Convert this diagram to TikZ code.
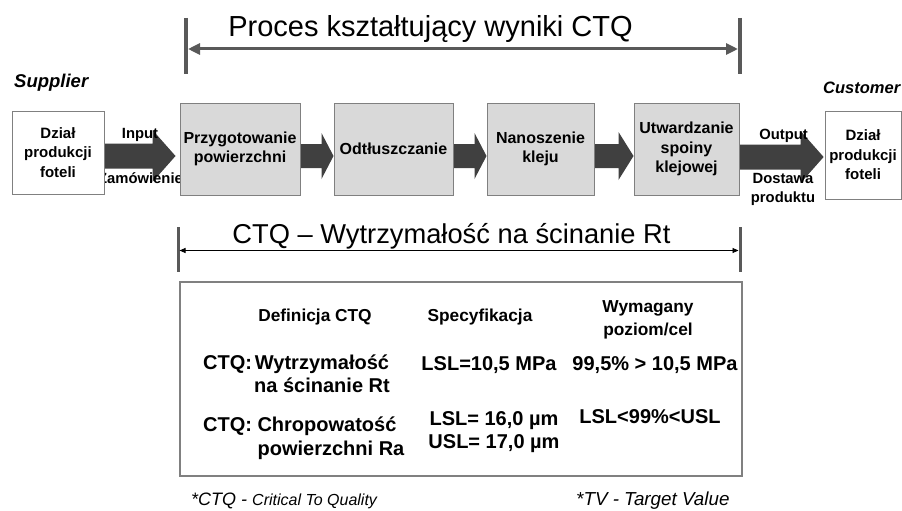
\documentclass[tikz,border=0pt]{standalone}
\usepackage{fontspec}
\setmainfont{Liberation Sans}
\usetikzlibrary{arrows.meta,calc}
\definecolor{boxgray}{RGB}{217,217,217}
\definecolor{edgegray}{RGB}{128,128,128}
\definecolor{arrowdark}{RGB}{64,64,64}
\definecolor{bracketgray}{RGB}{89,89,89}
\newcommand{\fs}[2]{\fontsize{#1}{#2}\selectfont}
% block arrow: from, to, dy (down), shaft half, head half, head length, tip gap
\newcommand{\barrow}[7]{%
  \fill[blockarrow] let \p1=(#1.east), \p2=(#2.west) in
  (\x1,\y1-#3+#4) -- (\x2-#7-#6,\y1-#3+#4) -- (\x2-#7-#6,\y1-#3+#5) --
  (\x2-#7,\y1-#3) -- (\x2-#7-#6,\y1-#3-#5) -- (\x2-#7-#6,\y1-#3-#4) --
  (\x1,\y1-#3-#4) -- cycle;}
\tikzset{
  procbox/.style={draw=edgegray, line width=1pt, fill=boxgray, minimum height=92pt,
    inner sep=0pt, align=center, font=\bfseries\fs{16}{19.5}},
  endbox/.style={draw=edgegray, line width=0.8pt, fill=white, inner sep=0pt,
    align=center, font=\bfseries\fs{15}{19.5}},
  lbl/.style={font=\bfseries\fs{14.8}{18}, inner sep=0pt, anchor=base},
  hdr/.style={font=\bfseries\fs{17.3}{22}, inner sep=0pt, anchor=base},
  rowtxt/.style={font=\bfseries\fs{20}{23}, inner sep=0pt, anchor=base},
  blockarrow/.style={fill=arrowdark},
  bar/.style={draw=bracketgray, line width=4pt},
  thinbar/.style={draw=bracketgray, line width=3pt},
}
\begin{document}
\begin{tikzpicture}[x=1pt,y=-1pt]
\useasboundingbox (0,0) rectangle (902,511);
\fill[white] (0,0) rectangle (902,511);

% top title and bracket
\node[font=\fs{29}{32}, inner sep=0pt, anchor=base] (title1) at (430.5,37) {Proces kształtujący wyniki CTQ};
\draw[bar] (186,18) -- (186,74);
\draw[bar] (740,18) -- (740,74);
\coordinate (tl) at (188,49);
\coordinate (tr) at (738,49);
\draw[bracketgray, line width=3pt, {Triangle[length=12pt,width=11pt]}-{Triangle[length=12pt,width=11pt]}] (tl) -- (tr);

% supplier / customer
\node[font=\bfseries\itshape\fs{18.5}{20}, inner sep=0pt, anchor=base west] (supl) at (14,87) {Supplier};
\node[font=\bfseries\itshape\fs{16.5}{20}, inner sep=0pt, anchor=base west] (custl) at (823,93) {Customer};

% boxes (positions only, drawn after arrows)
\path (58,152.5) node[endbox, minimum width=92pt, minimum height=83pt] (sup) {};
\path (240,149) node[procbox, minimum width=120pt] (b1) {};
\path (393.5,149) node[procbox, minimum width=119pt] (b2) {};
\path (540.5,149) node[procbox, minimum width=107pt] (b3) {};
\path (686.5,149) node[procbox, minimum width=105pt] (b4) {};
\path (863,155) node[endbox, minimum width=76pt, minimum height=88pt] (cust) {};

% block arrows
\barrow{sup}{b1}{3.5pt}{12.5pt}{26pt}{23pt}{4pt}
\barrow{b1}{b2}{7pt}{12pt}{23pt}{12pt}{0pt}
\barrow{b2}{b3}{7pt}{12pt}{23pt}{12pt}{0pt}
\barrow{b3}{b4}{7pt}{12pt}{24pt}{15pt}{0pt}
\barrow{b4}{cust}{8pt}{12.5pt}{26pt}{23pt}{1pt}

% arrow labels
\node[lbl] (in) at (140,138) {Input};
\node[lbl] (zam) at (140.5,183) {Zamówienie};
\node[lbl] (out) at (783.5,139) {Output};
\node[lbl] (dost) at (783,183) {Dostawa};
\node[lbl] (prod) at (783,202) {produktu};

% boxes drawn on top
\node[endbox, minimum width=92pt, minimum height=83pt] at (sup) {Dział\\produkcji\\foteli};
\node[procbox, minimum width=120pt] at (b1) {Przygotowanie\\powierzchni};
\node[procbox, minimum width=119pt] at (b2) {Odtłuszczanie};
\node[procbox, minimum width=107pt] at (b3) {Nanoszenie\\kleju};
\node[procbox, minimum width=105pt] at (b4) {Utwardzanie\\spoiny\\klejowej};
\node[endbox, minimum width=76pt, minimum height=88pt] at (cust) {Dział\\produkcji\\foteli};

% second title and bracket
\node[font=\fs{27.3}{30}, inner sep=0pt, anchor=base] (title2) at (451.5,243) {CTQ – Wytrzymałość na ścinanie Rt};
\draw[thinbar] (178,227) -- (178,272);
\draw[thinbar] (740,227) -- (740,272);
\coordinate (bl) at (179.5,250.5);
\coordinate (br) at (738.5,250.5);
\draw[black, line width=0.8pt, {Triangle[length=6pt,width=5pt]}-{Triangle[length=6pt,width=5pt]}] (bl) -- (br);

% table
\node[draw=edgegray, line width=1.2pt, minimum width=562pt, minimum height=194pt, inner sep=0pt] (tbl) at (461,379) {};
\node[hdr] (h1) at (315,321) {Definicja CTQ};
\node[hdr] (h2) at (480,321) {Specyfikacja};
\node[hdr] (h3a) at (648,312) {Wymagany};
\node[hdr] (h3b) at (648,335) {poziom/cel};

\node[rowtxt, anchor=base west] (c1) at (203,369) {CTQ:};
\node[rowtxt] (r1a) at (322,369) {Wytrzymałość};
\node[rowtxt] (r1b) at (322,392) {na ścinanie Rt};
\node[rowtxt] (s1) at (489,370) {LSL=10,5 MPa};
\node[rowtxt] (t1) at (655,370) {99,5\% > 10,5 MPa};

\node[rowtxt, anchor=base west] (c2) at (203,431) {CTQ:};
\node[rowtxt] (r2a) at (327,431) {Chropowatość};
\node[rowtxt] (r2b) at (331,455) {powierzchni Ra};
\node[rowtxt] (s2a) at (494,425) {LSL= 16,0 µm};
\node[rowtxt] (s2b) at (494,448) {USL= 17,0 µm};
\node[rowtxt] (t2) at (650,423) {LSL<99\%<USL};

% footnotes
\node[font=\itshape\fs{18}{20}, inner sep=0pt, anchor=base west] (fn1) at (191,505) {*CTQ - {\fs{16}{20}Critical To Quality}};
\node[font=\itshape\fs{18.8}{20}, inner sep=0pt, anchor=base west] (fn2) at (576,505) {*TV - Target Value};
\end{tikzpicture}
\end{document}
